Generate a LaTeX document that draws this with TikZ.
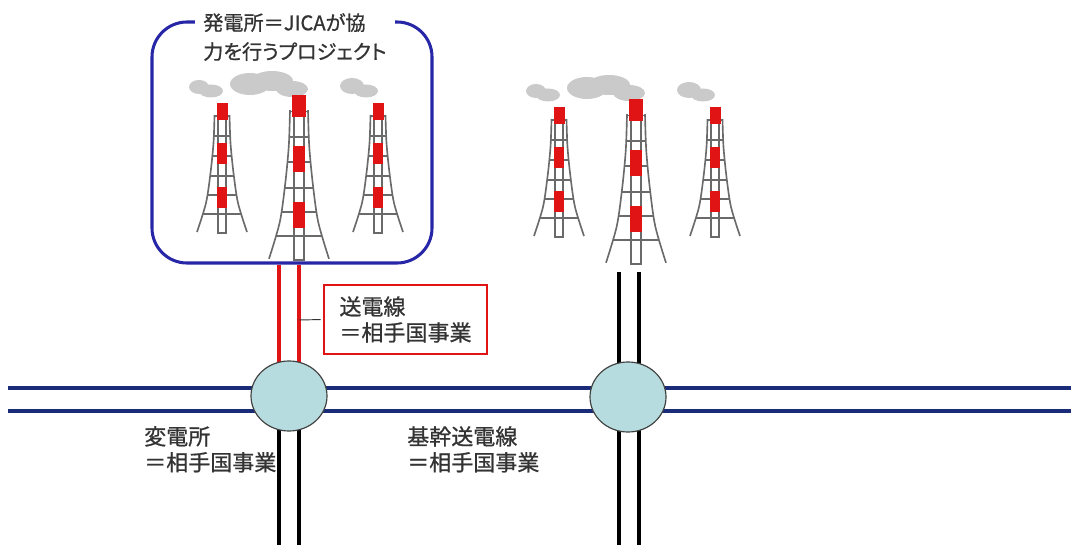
\documentclass[tikz,border=0pt]{standalone}
\usepackage{fontspec}
\setmainfont{Noto Sans CJK JP}[FakeBold=0.8]
\newfontfamily\jpprop{Noto Sans CJK JP}[RawFeature=+palt, FakeBold=0.8]
\usetikzlibrary{shapes.geometric,calc,backgrounds}

\definecolor{plantblue}{HTML}{2626A6}
\definecolor{gridnavy}{HTML}{1A2C78}
\definecolor{feedred}{HTML}{E01414}
\definecolor{subfill}{HTML}{B7DCDF}
\definecolor{towergray}{HTML}{6A6A6A}
\definecolor{smokegray}{HTML}{CACACA}
\definecolor{inkgray}{HTML}{333333}

\tikzset{
  trunk/.style={line width=2.6pt, gridnavy},
  feeder/.style={line width=2.6pt, feedred},
  drop/.style={line width=2.6pt, black},
  substation/.style={ellipse, draw=black!75, line width=1pt, fill=subfill,
    minimum width=2.28cm, minimum height=2.1cm, inner sep=0pt},
  plantbox/.style={draw=plantblue, line width=2.6pt, rounded corners=1.05cm,
    minimum width=8.4cm, minimum height=7.23cm},
  labelbox/.style={draw=feedred, line width=1.6pt, align=left, text=inkgray,
    minimum width=4.89cm, minimum height=2.07cm, font=\fontsize{18.8}{22.1}\selectfont},
  txt/.style={align=left, inner sep=0pt, anchor=north west, text=inkgray,
    font=\fontsize{18.8}{22.1}\selectfont},
  smoke/.style={fill=smokegray},
  pics/tower/.style={code={
    % column, legs and cross bars
    \draw[towergray, line width=1.4pt, fill=white] (-4,12) rectangle (4,130);
    \foreach \s in {-1,1}
      \draw[towergray, line width=1.4pt] plot[smooth] coordinates
        {(\s*7.5,12) (\s*8.5,40) (\s*11.5,70) (\s*16,100) (\s*25,129)};
    \foreach \h/\w in {13/7.5, 33/8.2, 53/10, 73/12, 92/15, 111/19.5}
      \draw[towergray, line width=1.4pt] (-\w,\h) -- (\w,\h);
    % red bands
    \fill[feedred] (-5.5,0) rectangle (5.5,17);
    \fill[feedred] (-5,40) rectangle (5,61);
    \fill[feedred] (-5,84) rectangle (5,105);
  }}
}

\begin{document}
\begin{tikzpicture}[x=0.03cm, y=-0.03cm]
\useasboundingbox (0,0) rectangle (1071,545);

\node[plantbox] (plant) at (292,142.5) {};

% two power stations, the left one inside the box
\foreach \dx/\dy in {0/0, 337/4} {
  \begin{scope}[shift={(\dx,\dy)}]
    \fill[smoke] (199,87) ellipse (10 and 7) (211,91) ellipse (12 and 6.5);
    \fill[smoke] (250,84) ellipse (20 and 11) (272,81) ellipse (21 and 10)
      (292,89) ellipse (16 and 8);
    \fill[smoke] (352,86) ellipse (12 and 8) (366,91) ellipse (12 and 6.5);
    \pic at (222,103) {tower};
    \pic[xscale=1.2, yscale=1.27] at (299,95) {tower};
    \pic at (378,103) {tower};
  \end{scope}
}

\node[txt, fill=white, inner xsep=0.24cm, inner ysep=0.06cm,
  font=\jpprop\fontsize{17.2}{24.7}\selectfont]
  (plantxt) at (195,11) {発電所＝JICAが協\\力を行うプロジェクト};

\node[substation] (sub1) at (289,396) {};
\node[substation] (sub2) at (628,397) {};
\node[labelbox] (feedlbl) at (405.5,319.5) {送電線\\＝相手国事業};

\coordinate (bot) at (0,545);
\coordinate (top2) at (0,272);
\coordinate (gW) at (8,399.5);
\coordinate (gE) at (1071,399.5);
\coordinate (a1) at ($(sub1)+(-10,0)$);
\coordinate (a2) at ($(sub1)+(10,0)$);
\coordinate (b1) at ($(sub2)+(-9,0)$);
\coordinate (b2) at ($(sub2)+(11,0)$);
\coordinate (tap) at ($(sub1)+(10,-76)$);

\begin{pgfonlayer}{background}
  \draw[trunk] ($(gW)+(0,-11.5)$) -- ($(gE)+(0,-11.5)$);
  \draw[trunk] ($(gW)+(0,11.5)$) -- ($(gE)+(0,11.5)$);
  \foreach \p in {a1,a2} {
    \draw[feeder] (\p |- plant.south) -- (\p);
    \draw[drop] (\p) -- (\p |- bot);
  }
  \foreach \p in {b1,b2}
    \draw[drop] (\p |- top2) -- (\p |- bot);
\end{pgfonlayer}

\draw[black!80, line width=0.8pt, shorten >=2pt] (tap) -- (feedlbl.west);

\node[txt] (subtxt) at (144,426) {変電所\\＝相手国事業};
\node[txt] (gridtxt) at (407,426) {基幹送電線\\＝相手国事業};
\end{tikzpicture}
\end{document}
